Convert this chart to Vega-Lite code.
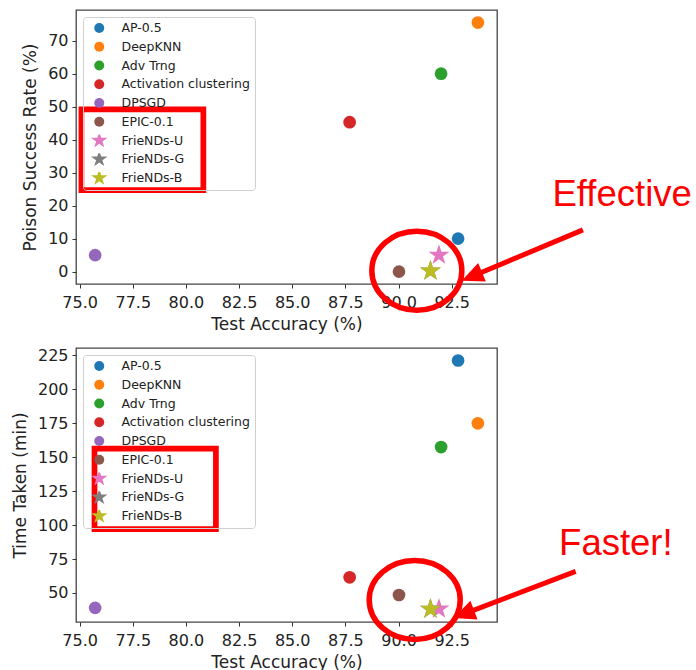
{
  "$schema": "https://vega.github.io/schema/vega-lite/v6.json",
  "padding": {"left": 10, "top": 9, "right": 0, "bottom": 0},
  "background": "white",
  "spacing": 13,
  "datasets": {
    "pts": [
      {"method": "AP-0.5", "acc": 92.8, "psr": 10, "time": 221.3},
      {"method": "DeepKNN", "acc": 93.73, "psr": 75.5, "time": 175},
      {"method": "Adv Trng", "acc": 92.0, "psr": 60, "time": 157.5},
      {"method": "Activation clustering", "acc": 87.7, "psr": 45.3, "time": 61.5},
      {"method": "DPSGD", "acc": 75.73, "psr": 5, "time": 39},
      {"method": "EPIC-0.1", "acc": 90.02, "psr": 0, "time": 48.5},
      {"method": "FrieNDs-U", "acc": 91.9, "psr": 5, "time": 38.2},
      {"method": "FrieNDs-G", "acc": 91.5, "psr": 0.2, "time": 38.1},
      {"method": "FrieNDs-B", "acc": 91.5, "psr": 0.2, "time": 38.1}
    ],
    "boxTop": [{"x1": 75.084, "x2": 80.82, "y1": 49.18, "y2": 24.7}],
    "boxBot": [{"x1": 75.70, "x2": 81.41, "y1": 156.4, "y2": 97.0}],
    "ellTop": [{"x": 90.86, "y": 0.3}],
    "ellBot": [{"x": 90.76, "y": 44.84}],
    "arrTop": [{"x1": 98.67, "y1": 12.64, "x2": 93.75, "y2": -0.64, "tx": 92.97, "ty": -2.73, "ang": 247.4}],
    "arrBot": [{"x1": 98.33, "y1": 65.9, "x2": 93.36, "y2": 36.3, "tx": 92.58, "ty": 31.59, "ang": 249.2}],
    "txtTop": [{"x": 97.24, "y": 20, "label": "Effective"}],
    "txtBot": [{"x": 97.55, "y": 78.2, "label": "Faster!"}]
  },
  "config": {
    "view": {"stroke": "#444", "strokeWidth": 1.3},
    "axis": {
      "domain": false,
      "grid": false,
      "tickColor": "#333",
      "tickSize": 4,
      "tickWidth": 1,
      "labelFont": "DejaVu Sans",
      "labelFontSize": 16,
      "labelColor": "#222",
      "labelPadding": 4,
      "labelOverlap": false,
      "labelFlush": false,
      "titleFont": "DejaVu Sans",
      "titleFontSize": 17,
      "titleFontWeight": "normal",
      "titleColor": "#222"
    },
    "axisX": {"labelPadding": 6},
    "legend": {
      "orient": "top-left",
      "offset": 6.5,
      "title": null,
      "fillColor": null,
      "strokeColor": "#cfcfcf",
      "cornerRadius": 3,
      "padding": 5,
      "labelFont": "DejaVu Sans",
      "labelFontSize": 12.5,
      "labelColor": "#222",
      "clipHeight": 12,
      "rowPadding": 5.75,
      "labelOffset": 16,
      "symbolOffset": 5,
      "symbolStrokeWidth": 0
    }
  },
  "resolve": {
    "scale": {"color": "independent", "shape": "independent"},
    "legend": {"color": "independent", "shape": "independent"}
  },
  "vconcat": [
    {
      "width": 421,
      "height": 274,
      "layer": [
        {
          "data": {"name": "pts"},
          "mark": {"type": "point", "filled": true, "opacity": 1, "strokeWidth": 0, "size": 161},
          "encoding": {
            "x": {"field": "acc", "type": "quantitative", "title": "Test Accuracy (%)",
                  "scale": {"domain": [74.83, 94.63], "nice": false, "zero": false},
                  "axis": {"values": [75, 77.5, 80, 82.5, 85, 87.5, 90, 92.5], "format": ".1f", "titlePadding": 6, "labelOverlap": false}},
            "y": {"field": "psr", "type": "quantitative", "title": "Poison Success Rate (%)",
                  "scale": {"domain": [-3.75, 79.3], "nice": false, "zero": false},
                  "axis": {"values": [0, 10, 20, 30, 40, 50, 60, 70], "titlePadding": 8, "labelOverlap": false, "tickCount": 8}},
            "color": {"field": "method", "type": "nominal", "sort": null,
                      "scale": {"domain": ["AP-0.5", "DeepKNN", "Adv Trng", "Activation clustering", "DPSGD", "EPIC-0.1", "FrieNDs-U", "FrieNDs-G", "FrieNDs-B"],
                                "range": ["#1f77b4", "#ff7f0e", "#2ca02c", "#d62728", "#9467bd", "#8c564b", "#e377c2", "#7f7f7f", "#bcbd22"]}},
            "shape": {"field": "method", "type": "nominal", "sort": null,
                      "scale": {"domain": ["AP-0.5", "DeepKNN", "Adv Trng", "Activation clustering", "DPSGD", "EPIC-0.1", "FrieNDs-U", "FrieNDs-G", "FrieNDs-B"],
                                "range": ["circle", "circle", "circle", "circle", "circle", "circle",
                                  "M0,-1.734L0.39,-0.536L1.649,-0.536L0.629,0.205L1.02,1.403L0,0.662L-1.02,1.403L-0.629,0.205L-1.649,-0.536L-0.39,-0.536Z",
                                  "M0,-1.734L0.39,-0.536L1.649,-0.536L0.629,0.205L1.02,1.403L0,0.662L-1.02,1.403L-0.629,0.205L-1.649,-0.536L-0.39,-0.536Z",
                                  "M0,-1.734L0.39,-0.536L1.649,-0.536L0.629,0.205L1.02,1.403L0,0.662L-1.02,1.403L-0.629,0.205L-1.649,-0.536L-0.39,-0.536Z"]}}
          }
        },
        {
          "data": {"name": "boxTop"},
          "mark": {"type": "rect", "fill": null, "stroke": "#ff0000", "strokeWidth": 5.7, "clip": false},
          "encoding": {
            "x": {"field": "x1", "type": "quantitative", "axis": {"values": [75, 77.5, 80, 82.5, 85, 87.5, 90, 92.5], "labelOverlap": false}}, "x2": {"field": "x2"},
            "y": {"field": "y1", "type": "quantitative", "axis": {"values": [0, 10, 20, 30, 40, 50, 60, 70], "labelOverlap": false}}, "y2": {"field": "y2"}
          }
        },
        {
          "data": {"name": "ellTop"},
          "mark": {"type": "point", "filled": false, "stroke": "#ff0000", "strokeWidth": 5.5, "opacity": 1, "size": 8100, "clip": false,
                   "shape": "M-1,0A1,0.878 0 1,0 1,0A1,0.878 0 1,0 -1,0Z"},
          "encoding": {
            "x": {"field": "x", "type": "quantitative", "axis": {"values": [75, 77.5, 80, 82.5, 85, 87.5, 90, 92.5], "labelOverlap": false}},
            "y": {"field": "y", "type": "quantitative", "axis": {"values": [0, 10, 20, 30, 40, 50, 60, 70], "labelOverlap": false}}
          }
        },
        {
          "data": {"name": "arrTop"},
          "mark": {"type": "rule", "stroke": "#ff0000", "strokeWidth": 5, "clip": false},
          "encoding": {
            "x": {"field": "x1", "type": "quantitative", "axis": {"values": [75, 77.5, 80, 82.5, 85, 87.5, 90, 92.5], "labelOverlap": false}}, "x2": {"field": "x2"},
            "y": {"field": "y1", "type": "quantitative", "axis": {"values": [0, 10, 20, 30, 40, 50, 60, 70], "labelOverlap": false}}, "y2": {"field": "y2"}
          }
        },
        {
          "data": {"name": "arrTop"},
          "mark": {"type": "point", "filled": true, "fill": "#ff0000", "opacity": 1, "size": 400, "clip": false, "strokeWidth": 0,
                   "shape": "M0,0L-1,2.2L1,2.2Z"},
          "encoding": {
            "x": {"field": "tx", "type": "quantitative", "axis": {"values": [75, 77.5, 80, 82.5, 85, 87.5, 90, 92.5], "labelOverlap": false}},
            "y": {"field": "ty", "type": "quantitative", "axis": {"values": [0, 10, 20, 30, 40, 50, 60, 70], "labelOverlap": false}},
            "angle": {"field": "ang", "type": "quantitative", "scale": null}
          }
        },
        {
          "data": {"name": "txtTop"},
          "mark": {"type": "text", "font": "Liberation Sans", "fontSize": 36.5, "color": "#ff0000", "align": "left", "baseline": "alphabetic", "clip": false},
          "encoding": {
            "x": {"field": "x", "type": "quantitative", "axis": {"values": [75, 77.5, 80, 82.5, 85, 87.5, 90, 92.5], "labelOverlap": false}},
            "y": {"field": "y", "type": "quantitative", "axis": {"values": [0, 10, 20, 30, 40, 50, 60, 70], "labelOverlap": false}},
            "text": {"field": "label"}
          }
        }
      ]
    },
    {
      "width": 421,
      "height": 274,
      "layer": [
        {
          "data": {"name": "pts"},
          "mark": {"type": "point", "filled": true, "opacity": 1, "strokeWidth": 0, "size": 161},
          "encoding": {
            "x": {"field": "acc", "type": "quantitative", "title": "Test Accuracy (%)",
                  "scale": {"domain": [74.83, 94.63], "nice": false, "zero": false},
                  "axis": {"values": [75, 77.5, 80, 82.5, 85, 87.5, 90, 92.5], "format": ".1f", "titlePadding": 6, "labelOverlap": false}},
            "y": {"field": "time", "type": "quantitative", "title": "Time Taken (min)",
                  "scale": {"domain": [28.6, 230.5], "nice": false, "zero": false},
                  "axis": {"values": [50, 75, 100, 125, 150, 175, 200, 225], "titlePadding": 8, "labelOverlap": false}},
            "color": {"field": "method", "type": "nominal", "sort": null,
                      "scale": {"domain": ["AP-0.5", "DeepKNN", "Adv Trng", "Activation clustering", "DPSGD", "EPIC-0.1", "FrieNDs-U", "FrieNDs-G", "FrieNDs-B"],
                                "range": ["#1f77b4", "#ff7f0e", "#2ca02c", "#d62728", "#9467bd", "#8c564b", "#e377c2", "#7f7f7f", "#bcbd22"]}},
            "shape": {"field": "method", "type": "nominal", "sort": null,
                      "scale": {"domain": ["AP-0.5", "DeepKNN", "Adv Trng", "Activation clustering", "DPSGD", "EPIC-0.1", "FrieNDs-U", "FrieNDs-G", "FrieNDs-B"],
                                "range": ["circle", "circle", "circle", "circle", "circle", "circle",
                                  "M0,-1.734L0.39,-0.536L1.649,-0.536L0.629,0.205L1.02,1.403L0,0.662L-1.02,1.403L-0.629,0.205L-1.649,-0.536L-0.39,-0.536Z",
                                  "M0,-1.734L0.39,-0.536L1.649,-0.536L0.629,0.205L1.02,1.403L0,0.662L-1.02,1.403L-0.629,0.205L-1.649,-0.536L-0.39,-0.536Z",
                                  "M0,-1.734L0.39,-0.536L1.649,-0.536L0.629,0.205L1.02,1.403L0,0.662L-1.02,1.403L-0.629,0.205L-1.649,-0.536L-0.39,-0.536Z"]}}
          }
        },
        {
          "data": {"name": "boxBot"},
          "mark": {"type": "rect", "fill": null, "stroke": "#ff0000", "strokeWidth": 5.7, "clip": false},
          "encoding": {
            "x": {"field": "x1", "type": "quantitative", "axis": {"values": [75, 77.5, 80, 82.5, 85, 87.5, 90, 92.5], "labelOverlap": false}}, "x2": {"field": "x2"},
            "y": {"field": "y1", "type": "quantitative", "axis": {"values": [50, 75, 100, 125, 150, 175, 200, 225], "labelOverlap": false}}, "y2": {"field": "y2"}
          }
        },
        {
          "data": {"name": "ellBot"},
          "mark": {"type": "point", "filled": false, "stroke": "#ff0000", "strokeWidth": 5.5, "opacity": 1, "size": 8281, "clip": false,
                   "shape": "M-1,0A1,0.868 0 1,0 1,0A1,0.868 0 1,0 -1,0Z"},
          "encoding": {
            "x": {"field": "x", "type": "quantitative", "axis": {"values": [75, 77.5, 80, 82.5, 85, 87.5, 90, 92.5], "labelOverlap": false}},
            "y": {"field": "y", "type": "quantitative", "axis": {"values": [50, 75, 100, 125, 150, 175, 200, 225], "labelOverlap": false}}
          }
        },
        {
          "data": {"name": "arrBot"},
          "mark": {"type": "rule", "stroke": "#ff0000", "strokeWidth": 5, "clip": false},
          "encoding": {
            "x": {"field": "x1", "type": "quantitative", "axis": {"values": [75, 77.5, 80, 82.5, 85, 87.5, 90, 92.5], "labelOverlap": false}}, "x2": {"field": "x2"},
            "y": {"field": "y1", "type": "quantitative", "axis": {"values": [50, 75, 100, 125, 150, 175, 200, 225], "labelOverlap": false}}, "y2": {"field": "y2"}
          }
        },
        {
          "data": {"name": "arrBot"},
          "mark": {"type": "point", "filled": true, "fill": "#ff0000", "opacity": 1, "size": 400, "clip": false, "strokeWidth": 0,
                   "shape": "M0,0L-1,2.2L1,2.2Z"},
          "encoding": {
            "x": {"field": "tx", "type": "quantitative", "axis": {"values": [75, 77.5, 80, 82.5, 85, 87.5, 90, 92.5], "labelOverlap": false}},
            "y": {"field": "ty", "type": "quantitative", "axis": {"values": [50, 75, 100, 125, 150, 175, 200, 225], "labelOverlap": false}},
            "angle": {"field": "ang", "type": "quantitative", "scale": null}
          }
        },
        {
          "data": {"name": "txtBot"},
          "mark": {"type": "text", "font": "Liberation Sans", "fontSize": 36.5, "color": "#ff0000", "align": "left", "baseline": "alphabetic", "clip": false},
          "encoding": {
            "x": {"field": "x", "type": "quantitative", "axis": {"values": [75, 77.5, 80, 82.5, 85, 87.5, 90, 92.5], "labelOverlap": false}},
            "y": {"field": "y", "type": "quantitative", "axis": {"values": [50, 75, 100, 125, 150, 175, 200, 225], "labelOverlap": false}},
            "text": {"field": "label"}
          }
        }
      ]
    }
  ]
}
